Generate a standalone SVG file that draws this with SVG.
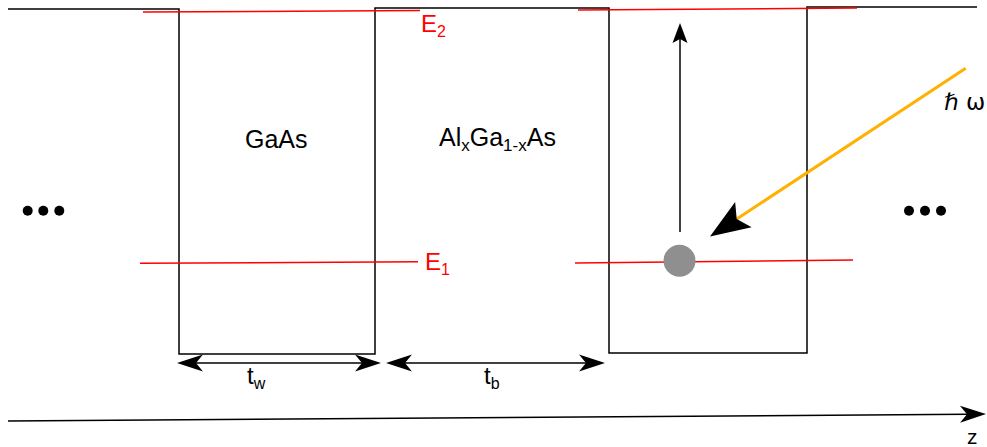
<svg xmlns="http://www.w3.org/2000/svg" width="987" height="447" viewBox="0 0 987 447">
<style>
.prof{fill:none;stroke:#000;stroke-width:1.5}
.lvl{fill:none;stroke:#ff0000;stroke-width:1.5}
.blk{fill:none;stroke:#000;stroke-width:1.5}
.t{font-family:"Liberation Sans",Arial,sans-serif;fill:#000}
.r{fill:#ff0000}
.dot{fill:#000}
</style>
<defs>
<marker id="hd" markerUnits="userSpaceOnUse" orient="auto-start-reverse" overflow="visible" refX="0" refY="0" markerWidth="30" markerHeight="20">
<path d="M0,0 L-7,-8.5 L19,0 L-7,8.5 Z" fill="#000"/>
</marker>
<marker id="hv" markerUnits="userSpaceOnUse" orient="auto" overflow="visible" refX="0" refY="0" markerWidth="20" markerHeight="16">
<path d="M0,0 L-4,-7.5 L16,0 L-4,7.5 Z" fill="#000"/>
</marker>
<marker id="ho" markerUnits="userSpaceOnUse" orient="auto" overflow="visible" refX="0" refY="0" markerWidth="40" markerHeight="32">
<path d="M0,0 L-8,-15 L32,0 L-8,15 Z" fill="#000"/>
</marker>
</defs>
<g id="profile">
<path class="prof" d="M8,9 L179,9 L179,354 L375,354 L375,8 L609,8 L609,353 L807,353 L807,7 L977,7"/>
</g>
<g id="levels">
<line class="lvl" x1="143" y1="12" x2="420" y2="10.5"/>
<line class="lvl" x1="578" y1="10" x2="857" y2="8"/>
<line class="lvl" x1="140" y1="263.3" x2="418" y2="261.7"/>
<line class="lvl" x1="575" y1="263" x2="853" y2="260"/>
</g>
<g id="labels">
<text class="t r" x="421" y="32" font-size="24">E<tspan font-size="16" dy="5">2</tspan></text>
<text class="t r" x="425" y="270" font-size="24">E<tspan font-size="16" dy="5">1</tspan></text>
<text class="t" x="245" y="148" font-size="25">GaAs</text>
<text class="t" x="439" y="146" font-size="25">Al<tspan font-size="17" dy="5">x</tspan><tspan dy="-5">Ga</tspan><tspan font-size="17" dy="5">1-x</tspan><tspan dy="-5">As</tspan></text>
<text class="t" x="247" y="384" font-size="24">t<tspan font-size="16" dy="5">w</tspan></text>
<text class="t" x="484" y="384" font-size="24">t<tspan font-size="16" dy="5">b</tspan></text>
<text x="944" y="110" font-size="23" font-family="DejaVu Sans,sans-serif" fill="#000">ℏ ω</text>
<text class="t" x="967" y="444" font-size="21">z</text>
</g>
<g id="dots-left">
<circle class="dot" cx="27.7" cy="210.7" r="5"/>
<circle class="dot" cx="43.3" cy="210.7" r="5"/>
<circle class="dot" cx="59.3" cy="210.7" r="5"/>
</g>
<g id="dots-right">
<circle class="dot" cx="909" cy="210.7" r="5"/>
<circle class="dot" cx="925" cy="210.7" r="5"/>
<circle class="dot" cx="941" cy="210.7" r="5"/>
</g>
<g id="electron">
<circle cx="679.5" cy="260.7" r="16" fill="#8f8f8f"/>
</g>
<g id="connectors">
<line class="blk" x1="680" y1="232" x2="680" y2="39" marker-end="url(#hv)"/>
<line x1="965.7" y1="68.3" x2="736.7" y2="219" stroke="#ffb000" stroke-width="3" marker-end="url(#ho)"/>
<line class="blk" x1="196" y1="363" x2="362" y2="363" marker-start="url(#hd)" marker-end="url(#hd)"/>
<line class="blk" x1="405" y1="363" x2="586" y2="363" marker-start="url(#hd)" marker-end="url(#hd)"/>
<line class="blk" x1="8" y1="421" x2="967" y2="414.2" marker-end="url(#hd)"/>
</g>
</svg>
